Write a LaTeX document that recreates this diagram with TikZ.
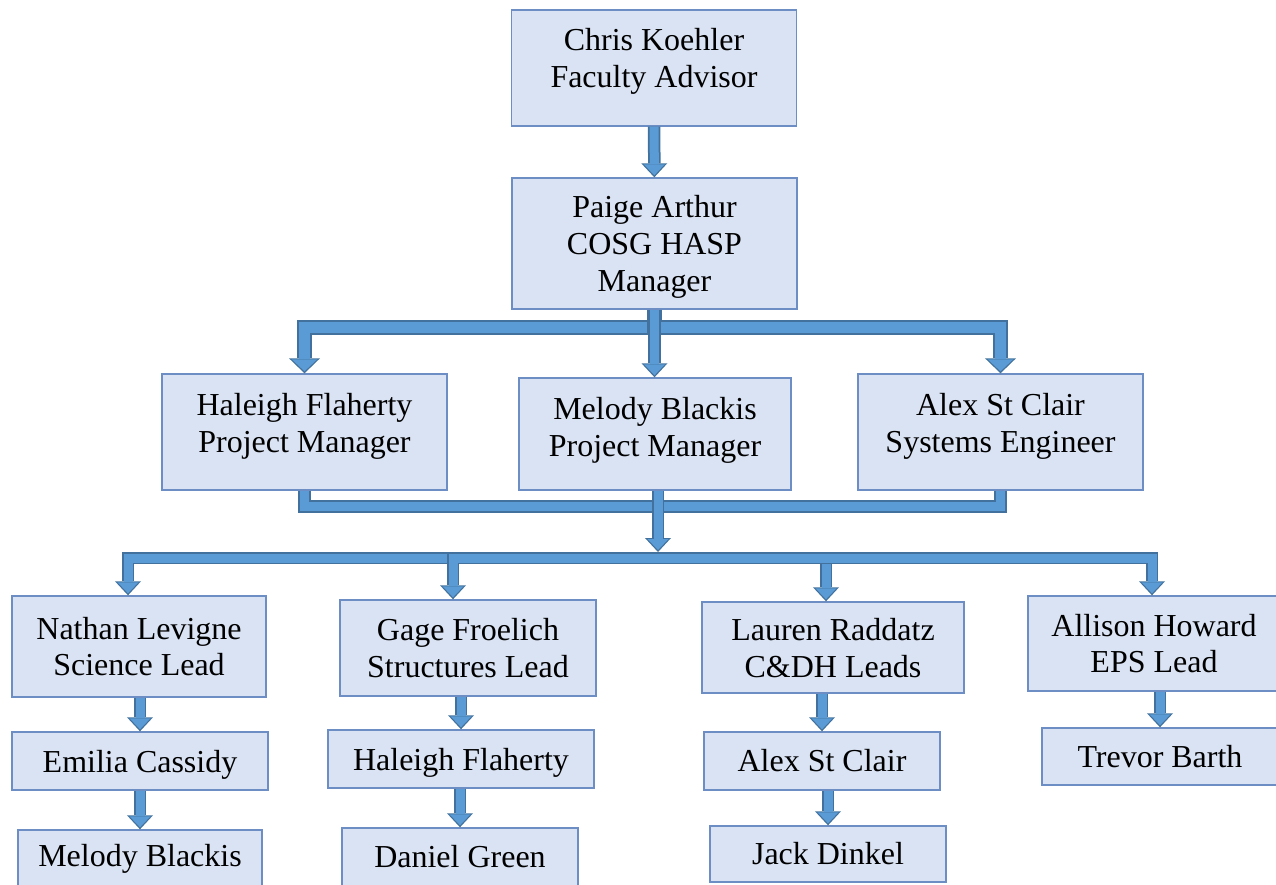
\documentclass[tikz,border=0pt]{standalone}
\usepackage{fontspec}
\setmainfont{Liberation Serif}
\usetikzlibrary{arrows.meta}
\definecolor{boxfill}{HTML}{DAE3F3}
\definecolor{boxedge}{HTML}{6D8EC4}
\definecolor{linkfill}{HTML}{5B9BD5}
\definecolor{linkedge}{HTML}{41719C}
\tikzset{
  unit/.style={draw=boxedge, fill=boxfill, line width=0.8pt, align=center,
    inner sep=0pt, font=\fontsize{18.2}{21}\selectfont},
  link/.style={draw=linkedge, line width=2.5mm,
    -{Triangle[width=5.2mm,length=2.8mm,line width=0pt]},
    postaction={draw=linkfill, line width=1.8mm,
      -{Triangle[width=4.2mm,length=2.2mm,line width=0pt]}, shorten >=0.4mm}},
  biglink/.style={draw=linkedge, line width=3mm,
    -{Triangle[width=6.2mm,length=3mm,line width=0pt]},
    postaction={draw=linkfill, line width=2.3mm,
      -{Triangle[width=5.1mm,length=2.4mm,line width=0pt]}, shorten >=0.4mm}},
  bar/.style={draw=linkedge, line width=2.5mm,
    postaction={draw=linkfill, line width=1.8mm}},
}
\begin{document}
\begin{tikzpicture}[x=0.2mm, y=-0.2mm]
        \useasboundingbox (0,0) rectangle (1276,884);
        \clip (0,0) rectangle (1276,884);

        % top of the team
        \node[unit, minimum width=57mm, minimum height=23.2mm, text depth=3.9mm] (chris) at (654,68) {Chris Koehler\\Faculty Advisor};
        \node[unit, minimum width=57mm, minimum height=26.2mm, text depth=0pt] (paige) at (654.5,243.5) {Paige Arthur\\COSG HASP\\Manager};

        \node[unit, minimum width=57mm, minimum height=23.2mm, text depth=3.8mm] (haleighpm) at (304.5,432) {Haleigh Flaherty\\Project Manager};
        \node[unit, minimum width=54.4mm, minimum height=22.4mm, text depth=3mm] (melodypm) at (655,434) {Melody Blackis\\Project Manager};
        \node[unit, minimum width=57mm, minimum height=23.2mm, text depth=3.8mm] (alexse) at (1000.5,432) {Alex St Clair\\Systems Engineer};

        % leads
        \node[unit, minimum width=50.8mm, minimum height=20.2mm] (nathan) at (139,646.5) {Nathan Levigne\\Science Lead};
        \node[unit, minimum width=51.2mm, minimum height=19.2mm] (gage) at (468,648) {Gage Froelich\\Structures Lead};
        \node[unit, minimum width=52.4mm, minimum height=18.2mm, text depth=0pt] (lauren) at (833,647.5) {Lauren Raddatz\\C\&DH Leads};
        \node[unit, minimum width=50.4mm, minimum height=19mm] (allison) at (1154,643.5) {Allison Howard\\EPS Lead};

        % members
        \node[unit, minimum width=51.2mm, minimum height=11.6mm, text depth=0pt] (emilia) at (140,761) {Emilia Cassidy};
        \node[unit, minimum width=53.2mm, minimum height=11.6mm, text depth=0pt] (haleighb) at (461,759) {Haleigh Flaherty};
        \node[unit, minimum width=47.2mm, minimum height=11.6mm] (alexb) at (822,761) {Alex St Clair};
        \node[unit, minimum width=47.2mm, minimum height=11.4mm] (trevor) at (1160,756.5) {Trevor Barth};

        \node[unit, minimum width=48.8mm, minimum height=11.6mm] (melodyb) at (140,859) {Melody Blackis};
        \node[unit, minimum width=47.2mm, minimum height=11.6mm] (daniel) at (460,857) {Daniel Green};
        \node[unit, minimum width=47.2mm, minimum height=11.2mm] (jack) at (828,854) {Jack Dinkel};

        % connectors
        \draw[link] (chris) -- (paige);

        \draw[biglink] (paige.south) -- ++(0,18) -| (haleighpm.north);
        \draw[biglink] (paige.south) -- ++(0,18) -| (alexse.north);
        \draw[link] (paige.south) -- (paige.south |- melodypm.north);

        \draw[bar] (haleighpm.south) -- ++(0,16) -| (alexse.south);

        \coordinate (hub) at (650,558);
        \coordinate (hubtop) at (658,552);
        \foreach \n/\s in {nathan/-2.2mm, gage/-3mm, lauren/-1.4mm, allison/-0.4mm}
            \draw[link] (hub) -| ([xshift=\s]\n.north);
        \draw[link] (hubtop |- melodypm.south) -- (hubtop);

        \foreach \a/\b in {nathan/emilia, emilia/melodyb, gage/haleighb, haleighb/daniel,
                           lauren/alexb, alexb/jack, allison/trevor}
            \draw[link] (\b.north |- \a.south) -- (\b.north);
    \end{tikzpicture}
\end{document}
